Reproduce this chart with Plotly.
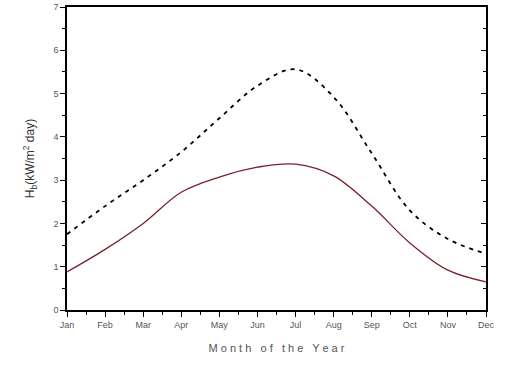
import plotly.graph_objects as go

months = ["Jan", "Feb", "Mar", "Apr", "May", "Jun", "Jul", "Aug", "Sep", "Oct", "Nov", "Dec"]
hb_solid = [0.88, 1.40, 2.00, 2.72, 3.07, 3.30, 3.37, 3.10, 2.40, 1.55, 0.92, 0.65]
hb_dashed = [1.75, 2.40, 3.00, 3.65, 4.43, 5.18, 5.56, 4.92, 3.62, 2.30, 1.64, 1.30]

x = list(range(len(months)))

fig = go.Figure()
fig.add_trace(go.Scatter(x=x, y=hb_dashed, mode="lines",
                         line=dict(color="black", width=1.8, dash="4px,5px", shape="spline", smoothing=1.0),
                         showlegend=False))
fig.add_trace(go.Scatter(x=x, y=hb_solid, mode="lines",
                         line=dict(color="#7a1f2b", width=1.3, shape="spline", smoothing=1.0),
                         showlegend=False))
# invisible trace for right axis ticks
fig.add_trace(go.Scatter(x=[x[0]], y=[hb_solid[0]], yaxis="y2", mode="lines",
                         line=dict(width=0), showlegend=False, hoverinfo="skip"))

tickfont = dict(family="Liberation Sans, Arial, sans-serif", size=9, color="#555555")
fig.update_layout(
    width=505, height=369,
    margin=dict(l=67, r=19, t=7, b=59),
    paper_bgcolor="white", plot_bgcolor="white",
    xaxis=dict(range=[0, 11], tickvals=x, ticktext=months, ticks="outside", ticklen=5,
               tickwidth=1.3, tickcolor="black", showline=True, linecolor="black", linewidth=1.5,
               mirror=True, showgrid=False, zeroline=False, tickfont=tickfont,
               automargin=False, ticklabeloverflow="allow",
               minor=dict(tickvals=[i + 0.5 for i in x[:-1]], ticks="outside", ticklen=3,
                          tickcolor="black", tickwidth=1),
               title=dict(text="M o n t h   o f   t h e   Y e a r",
                          font=dict(family="Liberation Sans, Arial, sans-serif", size=11, color="#555555"),
                          standoff=16)),
    yaxis=dict(range=[0, 7], dtick=1, ticks="outside", ticklen=5, tickwidth=1.3, tickcolor="black",
               showline=True, linecolor="black", linewidth=1.5, mirror=True, showgrid=False,
               zeroline=False, tickfont=tickfont, automargin=False,
               minor=dict(dtick=0.5, ticks="outside", ticklen=3, tickcolor="black", tickwidth=1),
               title=dict(text="H<sub>b</sub>(kW/m<sup>2</sup> day)",
                          font=dict(family="Liberation Sans, Arial, sans-serif", size=12, color="#333333"),
                          standoff=16)),
    yaxis2=dict(range=[0, 7], dtick=1, overlaying="y", side="right", ticks="inside", ticklen=5,
                tickwidth=1.3, tickcolor="black", showticklabels=False, showgrid=False, zeroline=False,
                showline=False, automargin=False,
                minor=dict(dtick=0.5, ticks="inside", ticklen=3, tickcolor="black", tickwidth=1)),
)

fig.write_html("out.html", config={"displayModeBar": False},
               post_script="document.body.style.margin='0';document.body.style.overflow='hidden';")
